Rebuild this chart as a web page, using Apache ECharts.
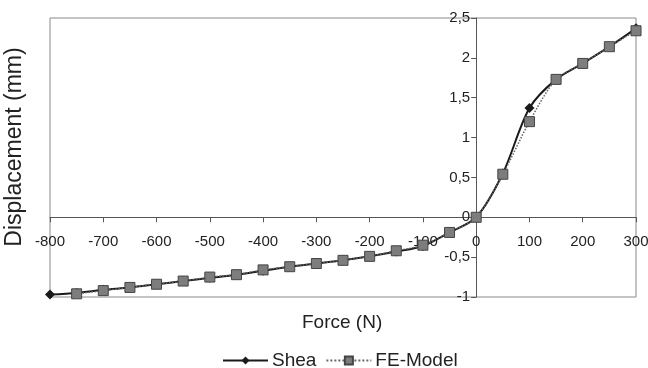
<!DOCTYPE html>
<html>
<head>
<meta charset="utf-8">
<script src="https://cdn.jsdelivr.net/npm/echarts@6/dist/echarts.min.js"></script>
<style>
  html, body { margin: 0; padding: 0; background: #fff; }
  #chart { width: 648px; height: 368px; }
</style>
</head>
<body>
<div id="chart"></div>
<script>
// Force (N) at each measured point
const sheaForce = [-800, -750, -700, -650, -600, -550, -500, -450, -400, -350, -300, -250,
  -200, -150, -100, -50, 0, 50, 100, 150, 200, 250, 300];
const sheaDisp = [-0.97, -0.95, -0.91, -0.88, -0.84, -0.80, -0.76, -0.72, -0.67, -0.62, -0.58, -0.54,
  -0.49, -0.43, -0.36, -0.19, 0, 0.55, 1.37, 1.73, 1.93, 2.14, 2.37];

const feForce = [-750, -700, -650, -600, -550, -500, -450, -400, -350, -300, -250,
  -200, -150, -100, -50, 0, 50, 100, 150, 200, 250, 300];
const feDisp = [-0.96, -0.92, -0.88, -0.84, -0.80, -0.75, -0.72, -0.66, -0.62, -0.58, -0.54,
  -0.49, -0.42, -0.35, -0.19, 0, 0.54, 1.20, 1.73, 1.93, 2.14, 2.34];

const xMin = -800, xMax = 300, yMin = -1, yMax = 2.5;

const fmt = (v) => String(v).replace('.', ',');
const font = 'Liberation Sans, Arial, sans-serif';

// plot box
const G = { left: 50, right: 12, top: 18, bottom: 71 };
const plotW = 648 - G.left - G.right;
const plotH = 368 - G.top - G.bottom;
// move axes so they cross at (0, 0), as in the original
const xOff = -plotH * (0 - yMin) / (yMax - yMin);
const yOff = -plotW * (0 - xMin) / (xMax - xMin);

const chart = echarts.init(document.getElementById('chart'));
chart.setOption({
  animation: false,
  textStyle: { fontFamily: font, color: '#222' },
  grid: {
    ...G,
    outerBoundsMode: 'none',
    containLabel: false,
    show: true, borderColor: '#8a8a8a', borderWidth: 1, backgroundColor: 'transparent',
  },
  xAxis: {
    type: 'value',
    min: xMin, max: xMax, interval: 100,
    position: 'bottom',
    offset: xOff,
    axisLine: { onZero: false, lineStyle: { color: '#555', width: 1 } },
    axisTick: { show: true, length: 5, lineStyle: { color: '#555' } },
    axisLabel: { color: '#222', fontSize: 15, margin: 17, fontFamily: font },
    splitLine: { show: false },
  },
  yAxis: {
    type: 'value',
    min: yMin, max: yMax, interval: 0.5,
    position: 'left',
    offset: yOff,
    axisLine: { onZero: false, lineStyle: { color: '#555', width: 1 } },
    axisTick: { show: true, length: 5, lineStyle: { color: '#555' } },
    axisLabel: { color: '#222', fontSize: 15, margin: 6, fontFamily: font, formatter: fmt },
    splitLine: { show: false },
  },
  legend: {
    top: 351,
    left: 222,
    itemWidth: 45,
    itemHeight: 10,
    itemGap: 9,
    padding: 0,
    textStyle: { fontSize: 19, color: '#222', fontFamily: font, padding: [0, 0, 0, -1] },
    data: ['Shea', 'FE-Model'],
  },
  graphic: [
    {
      type: 'text',
      left: 302,
      top: 313,
      style: { text: 'Force (N)', fontSize: 19, fill: '#222', fontFamily: font },
    },
    {
      type: 'text',
      x: 3,
      y: 147,
      rotation: Math.PI / 2,
      style: {
        text: 'Displacement (mm)', fontSize: 23, fill: '#222', fontFamily: font,
        align: 'center', verticalAlign: 'top',
      },
    },
  ],
  series: [
    {
      name: 'Shea',
      type: 'line',
      smooth: 0.3,
      data: sheaForce.map((f, i) => [f, sheaDisp[i]]),
      symbol: 'diamond',
      symbolSize: 10,
      itemStyle: { color: '#1a1a1a' },
      lineStyle: { color: '#1a1a1a', width: 2 },
      z: 2,
    },
    {
      name: 'FE-Model',
      type: 'line',
      smooth: 0.3,
      data: feForce.map((f, i) => [f, feDisp[i]]),
      symbol: 'rect',
      symbolSize: 10,
      itemStyle: { color: '#7d7d7d', borderColor: '#444', borderWidth: 1 },
      lineStyle: { color: '#666', width: 1.5, type: 'dotted' },
      z: 3,
    },
  ],
});
</script>
</body>
</html>
